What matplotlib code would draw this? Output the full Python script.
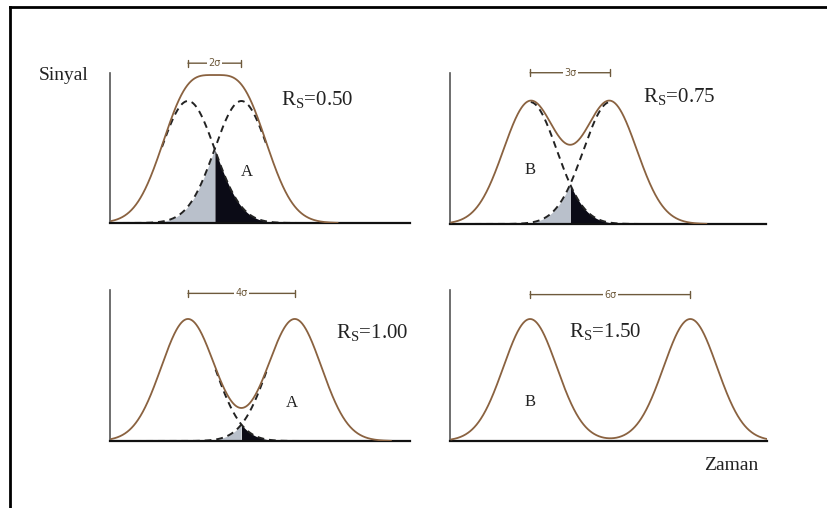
import numpy as np
import matplotlib
matplotlib.use("Agg")
import matplotlib.pyplot as plt
from matplotlib.lines import Line2D

# ---- data ----
rs_values = [0.50, 0.75, 1.00, 1.50]
rs_labels = ["0.50", "0.75", "1.00", "1.50"]
sep_labels = ["2σ", "3σ", "4σ", "6σ"]
separations = [2.0, 3.0, 4.0, 6.0]          # peak separation in σ units (4·Rs)
first_centers = [2.92, 3.0, 2.92, 3.0]      # first peak position (σ units from axis)
peak_heights = [1.0, 1.0, 1.0, 1.0]
sigma = 1.0
peak_letters = ["A", "B", "A", "B"]
letter_pos = [(5.13, 0.42), (3.0, 0.44), (6.8, 0.31), (3.0, 0.32)]
rs_pos = [(7.75, 1.01), (8.6, 1.04), (9.8, 0.885), (5.8, 0.89)]
arrow_y = [1.31, 1.24, 1.21, 1.20]
show_overlap = [True, True, True, False]

# ---- layout (pixels) ----
W, H = 827, 508
boxes = [(110, 410, 73, 223), (450, 766, 73, 224), (110, 410, 290, 441), (450, 767, 290, 441)]
sig_px = 26.7

plt.rcParams['mathtext.fontset'] = 'custom'
plt.rcParams['mathtext.rm'] = 'Liberation Serif'
serif = 'Liberation Serif'

fig = plt.figure(figsize=(W / 100, H / 100), dpi=100)
fig.patch.set_facecolor('white')

curve_col = '#8a6240'
arrow_col = '#6e5a3c'

def gauss(x, c, a):
    return a * np.exp(-0.5 * ((x - c) / sigma) ** 2)

for i, (l, r, t, b) in enumerate(boxes):
    ax = fig.add_axes([l / W, 1 - b / H, (r - l) / W, (b - t) / H])
    xmax = (r - l) / sig_px
    ymax = (b - t) / 122.0
    ax.set_xlim(0, xmax)
    ax.set_ylim(0, ymax)
    for s in ['top', 'right']:
        ax.spines[s].set_visible(False)
    ax.spines['left'].set_color('#555555')
    ax.spines['left'].set_linewidth(1.2)
    ax.spines['bottom'].set_color('#111111')
    ax.spines['bottom'].set_linewidth(1.6)
    ax.set_xticks([]); ax.set_yticks([])
    ax.patch.set_alpha(0)

    c1 = first_centers[i]
    c2 = c1 + separations[i]
    a = peak_heights[i]
    x = np.linspace(0.05, c2 + 3.6, 800)
    g1 = gauss(x, c1, a)
    g2 = gauss(x, c2, a)
    tot = g1 + g2
    mid = 0.5 * (c1 + c2)

    if show_overlap[i]:
        left = x <= mid
        right = x >= mid
        ax.fill_between(x[left], 0, g2[left], color='#b9c0cb', lw=0, zorder=1)
        ax.fill_between(x[right], 0, g1[right], color='#0b0b16', lw=0, zorder=1)
        d1 = np.where(tot - g1 > 0.012, g1, np.nan)
        d2 = np.where(tot - g2 > 0.012, g2, np.nan)
        ax.plot(x, d1, color='#222222', lw=1.4, ls=(0, (3.5, 2.5)), zorder=2)
        ax.plot(x, d2, color='#222222', lw=1.4, ls=(0, (3.5, 2.5)), zorder=2)

    ax.plot(x, tot, color=curve_col, lw=1.3, zorder=3)

    # separation marker
    ya = arrow_y[i]
    ax.annotate('', xy=(c2, ya), xytext=(c1, ya), xycoords='data',
                arrowprops=dict(arrowstyle='|-|, widthA=0.25, widthB=0.25',
                                color=arrow_col, lw=1.0, shrinkA=0, shrinkB=0),
                annotation_clip=False)
    ax.text(mid, ya, sep_labels[i], ha='center', va='center', fontsize=7,
            color=arrow_col, family='DejaVu Sans',
            bbox=dict(facecolor='white', edgecolor='none', pad=1.0), clip_on=False)

    ax.text(rs_pos[i][0], rs_pos[i][1], r'R$_\mathregular{S}$=' + rs_labels[i],
            ha='center', va='center', fontsize=15, family=serif, color='#222222')
    ax.text(letter_pos[i][0], letter_pos[i][1], peak_letters[i], ha='center',
            va='center', fontsize=12, family=serif, color='#222222')

fig.text(64 / W, 1 - 75 / H, 'Sinyal', ha='center', va='center', fontsize=14,
         family=serif, color='#222222')
fig.text(731 / W, 1 - 465 / H, 'Zaman', ha='center', va='center', fontsize=14,
         family=serif, color='#222222')

# outer frame (top and left edges)
fig.add_artist(Line2D([10 / W, 1.0], [1 - 6.5 / H, 1 - 6.5 / H], color='black', lw=2.0,
                      transform=fig.transFigure))
fig.add_artist(Line2D([10 / W, 10 / W], [1 - 6.5 / H, 0], color='black', lw=2.0,
                      transform=fig.transFigure))

fig.savefig('out.png', dpi=100)
